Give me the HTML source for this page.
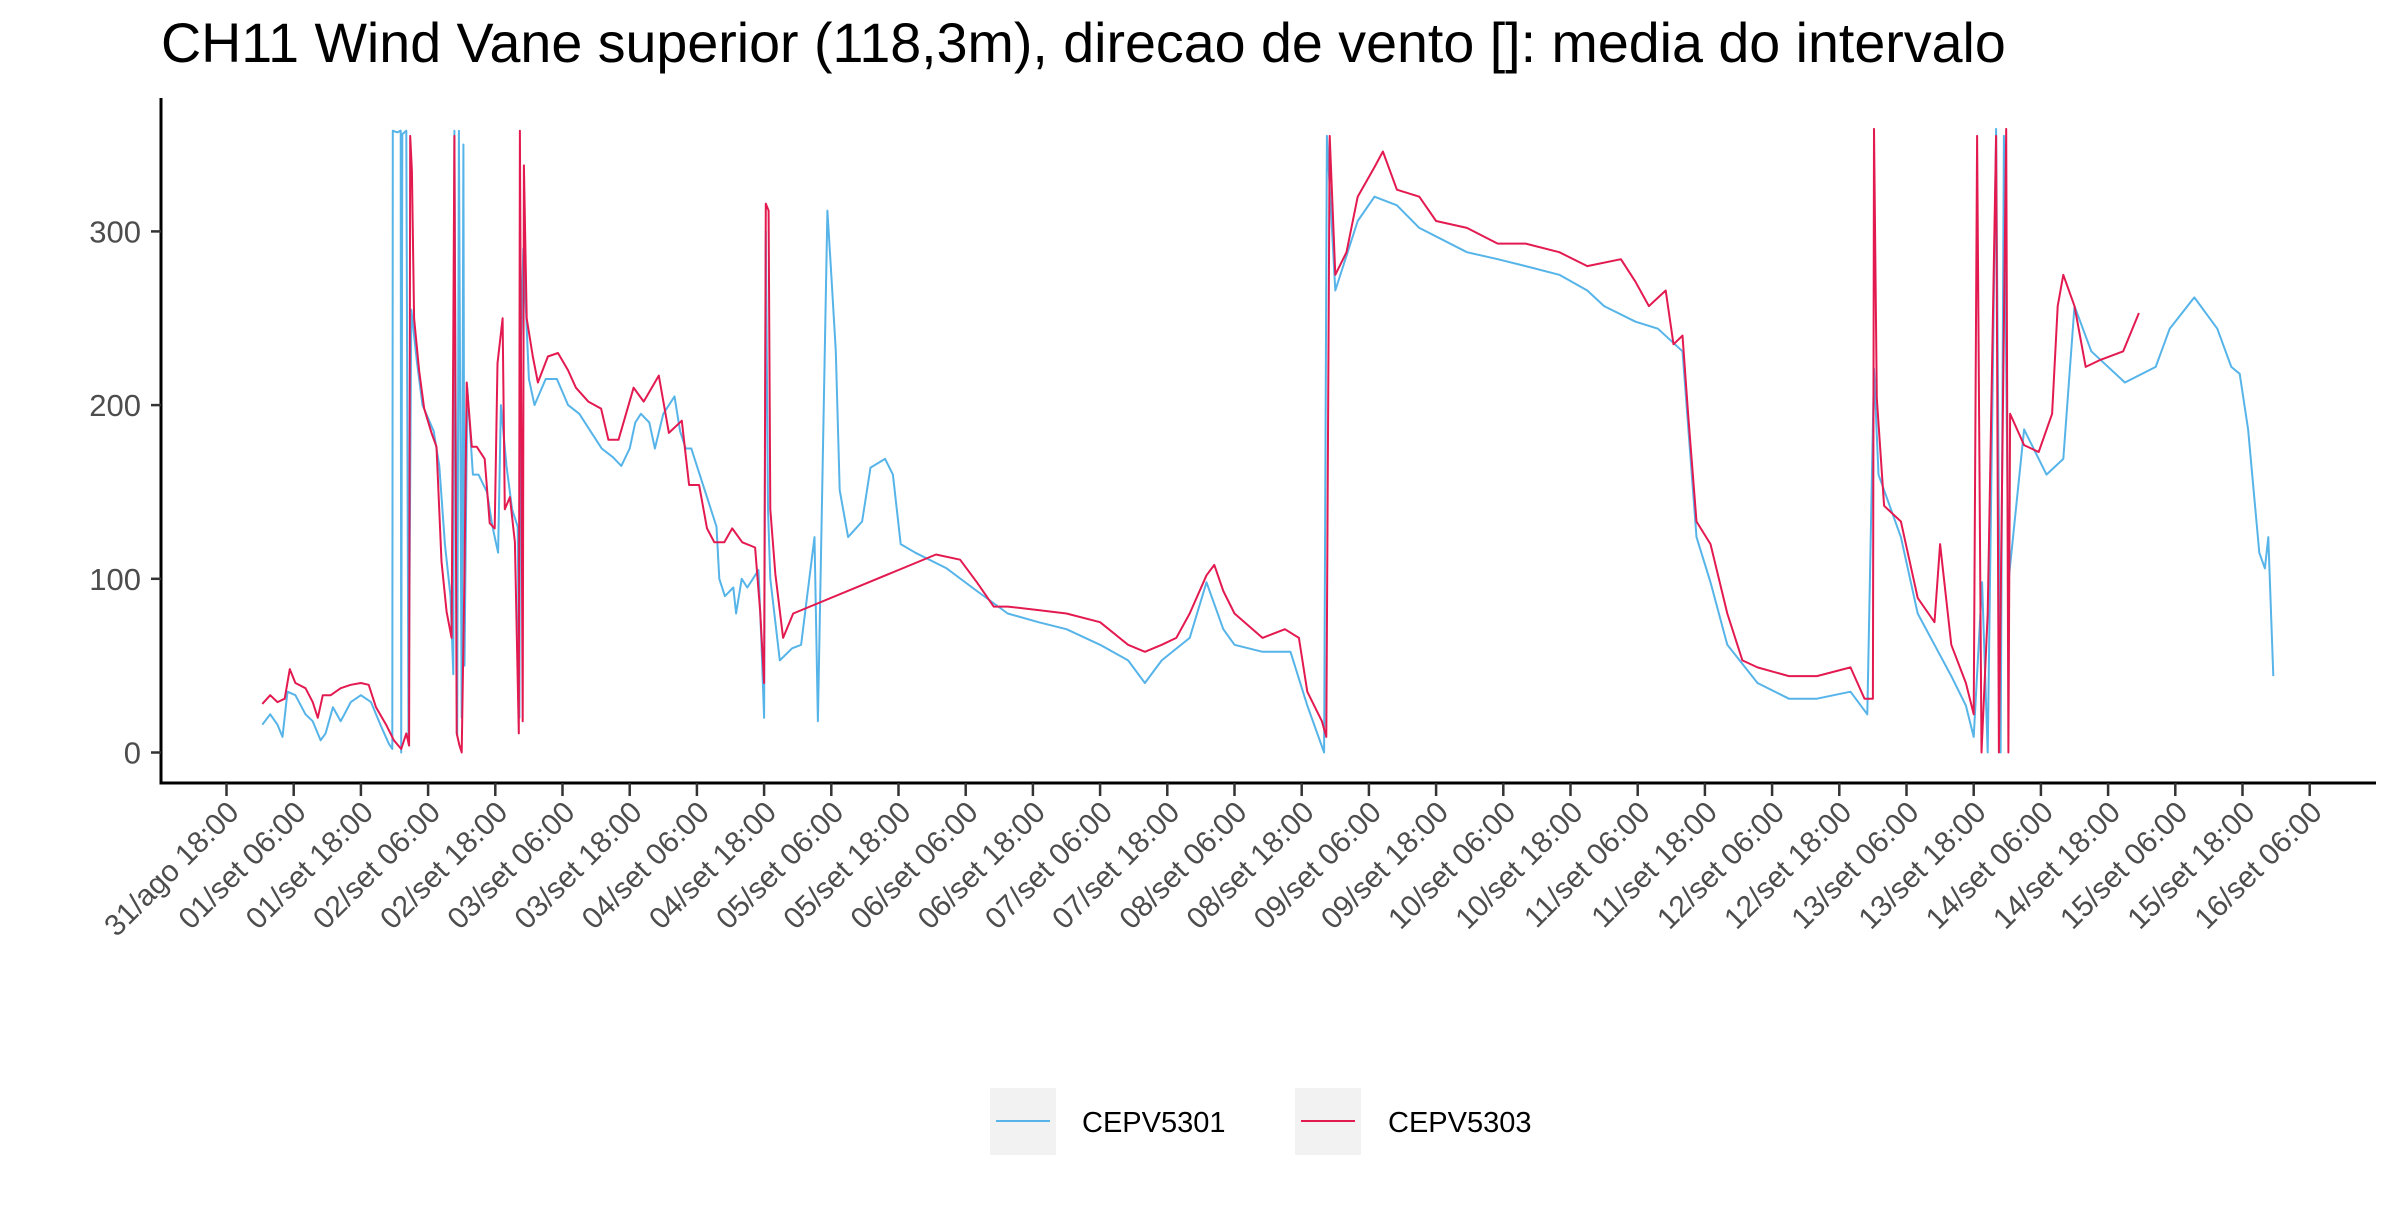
<!DOCTYPE html>
<html><head><meta charset="utf-8"><style>
body{margin:0;background:#fff}
svg text{font-family:"Liberation Sans",Arial,sans-serif}
</style></head><body>
<svg id="chart" width="2400" height="1200" viewBox="0 0 2400 1200" xmlns="http://www.w3.org/2000/svg">
<rect width="2400" height="1200" fill="#fff"/>
<text x="161" y="62" font-size="55.6" fill="#000">CH11 Wind Vane superior (118,3m), direcao de vento []: media do intervalo</text>
<g id="plot"></g>
<g id="axes"></g>
<g>
<rect x="990" y="1088" width="66" height="67" fill="#f2f2f2"/>
<line x1="996" y1="1121" x2="1050" y2="1121" stroke="#56B4E9" stroke-width="2"/>
<text x="1082" y="1132" font-size="29" fill="#000">CEPV5301</text>
<rect x="1295" y="1088" width="66" height="67" fill="#f2f2f2"/>
<line x1="1301" y1="1121" x2="1355" y2="1121" stroke="#E31A50" stroke-width="2"/>
<text x="1388" y="1132" font-size="29" fill="#000">CEPV5303</text>
</g>
</svg>
<script>
// x in hours since 31/ago 18:00
const tickLabels = ["31/ago 18:00","01/set 06:00","01/set 18:00","02/set 06:00","02/set 18:00","03/set 06:00","03/set 18:00","04/set 06:00","04/set 18:00","05/set 06:00","05/set 18:00","06/set 06:00","06/set 18:00","07/set 06:00","07/set 18:00","08/set 06:00","08/set 18:00","09/set 06:00","09/set 18:00","10/set 06:00","10/set 18:00","11/set 06:00","11/set 18:00","12/set 06:00","12/set 18:00","13/set 06:00","13/set 18:00","14/set 06:00","14/set 18:00","15/set 06:00","15/set 18:00","16/set 06:00"];
const yTicks = [0,100,200,300];
const redHours = [6.4,7.8,9.1,10.4,11.3,12.3,14.1,15.4,16.3,17.2,18.6,20.4,22.2,24,25.4,26.7,28.5,29.9,31.2,32.1,32.6,32.8,33.1,33.5,34.4,35.3,36.6,37.5,38.4,39.3,40.2,40.7,41.1,41.6,42.0,42.5,42.9,43.8,44.7,46.1,47,47.9,48.4,49.3,49.7,50.6,51.5,52.2,52.4,52.9,53.1,53.6,54.7,55.6,57.4,59.2,61,62.4,64.6,66.9,68.2,70,72.7,74.5,77.2,79,81.3,82.6,84.4,85.8,87.1,88.9,90.3,92.1,94.4,95.3,96,96.3,96.8,97.1,98,99.4,101.2,126.7,131,134,137,139.5,145,150,156,161,164,167,169.6,172,175,176.4,178,180,185,189,191.5,193,195.6,196.4,197,198,200,202,205,206.5,209,213,216,221.5,227,232,238,243,249,251.6,254,257,258.4,260,261,262.5,265,268,270.7,273.4,279,284,290,292.5,294,294.2,294.7,296,299,302,305,306,308,310.6,312,312.6,313.4,314.5,316,316.5,317.8,318.2,318.5,321,323.6,326,327,328,330,332,334.6,338.7,341.5];
const redValues = [28,33,29,31,48,40,37,29,20,33,33,37,39,40,39,26,16,7,2,11,4,355,335,250,220,198,184,176,110,81,66,355,11,4,0,103,213,176,176,169,132,129,224,250,140,147,121,11,358,18,338,250,228,213,228,230,220,210,202,198,180,180,210,202,217,184,191,154,154,129,121,121,129,121,118,81,40,316,312,140,103,66,80,114,111,98,84,84,82,80,75,62,58,62,66,80,102,108,93,80,66,71,66,35,18,9,355,275,288,320,337,346,324,320,306,302,293,293,288,280,284,271,257,266,235,240,195,133,120,80,53,49,44,44,49,31,31,359,204,142,133,89,75,120,62,40,22,355,0,80,355,0,359,0,195,177,173,195,257,275,257,222,226,231,253];
const blueHours = [6.4,7.8,9.1,10,10.9,12.3,14.1,15.4,16.8,17.7,19,20.4,22.2,24,25.8,27.6,29,29.6,29.7,30.5,31.1,31.2,31.4,32.1,32.5,33,34,35,37,38,39,40,40.5,40.7,41.2,41.5,42,42.3,42.5,43,44,45,46.5,47.5,48.5,49,50,51,52,52.3,52.5,53,54,55,57,59,61,63,65,67,69,70.5,72,73,74,75.5,76.5,78,80,81,82,83,84,86,87.5,88,89,90.5,91,92,93,94,95,95.5,96,96.3,96.7,97.1,98.8,101,102.6,105,105.6,107.3,108,108.8,109.5,111,113.5,115,117.6,119,120.4,123,128.6,134,139.5,145,150,156,161,164,167,172,175,178,180,185,190,193,196,196.5,198,202,205,209,213,221.5,227,232,238,243,246,251.6,255.6,260,262.5,265,268,273.4,279,284,290,293,294.2,295,299,302,305,308,310.6,312,313.5,314.5,316,316.8,317.4,318.2,321,325,328,330,333,339,344.5,347,351.4,355.5,358,359.5,361,363,364,364.6,365.5];
const blueValues = [16,22,16,9,35,33,22,18,7,11,26,18,29,33,29,15,5,2,358,357,358,0,356,358,5,255,225,200,185,165,120,90,45,358,10,358,20,350,50,210,160,160,150,130,115,200,165,140,130,20,225,290,215,200,215,215,200,195,185,175,170,165,175,190,195,190,175,195,205,185,175,175,165,145,130,100,90,95,80,100,95,100,105,65,20,300,140,100,53,60,62,124,18,312,275,231,151,124,133,164,169,160,120,115,106,93,80,75,71,62,53,40,53,66,98,71,62,58,58,27,0,355,266,306,320,315,302,288,284,280,275,266,257,248,244,231,124,98,62,40,31,31,35,22,221,160,124,80,62,44,27,9,98,0,359,0,355,98,186,160,169,257,231,213,222,244,262,244,222,218,186,115,106,124,44,22];

const X0 = 226.5, XS = 5.6, Y0 = 752.5, YS = 1.737;
const xScale = h => X0 + h * XS;
const yScale = v => Y0 - v * YS;
const NS = "http://www.w3.org/2000/svg";
const plot = document.getElementById('plot');
const axes = document.getElementById('axes');

function drawLine(hours, vals, color, name) {
  const p = document.createElementNS(NS, 'path');
  
  
  p.setAttribute('d', hours.map((h, i) => (i ? 'L' : 'M') + xScale(h).toFixed(1) + ' ' + yScale(vals[i]).toFixed(1)).join(' '));
  p.setAttribute('fill', 'none');
  p.setAttribute('stroke', color);
  p.setAttribute('stroke-width', '2');
  p.setAttribute('stroke-linejoin', 'round');
  plot.appendChild(p);
}
drawLine(blueHours, blueValues, '#56B4E9', 'series-cepv5301');
drawLine(redHours, redValues, '#E31A50', 'series-cepv5303');

const ya = document.createElementNS(NS, 'line');


ya.setAttribute('x1', 161); ya.setAttribute('x2', 161); ya.setAttribute('y1', 98); ya.setAttribute('y2', 784.5);
ya.setAttribute('stroke', '#000'); ya.setAttribute('stroke-width', '3');
axes.appendChild(ya);
const xa = document.createElementNS(NS, 'line');


xa.setAttribute('x1', 159.5); xa.setAttribute('x2', 2376); xa.setAttribute('y1', 783); xa.setAttribute('y2', 783);
xa.setAttribute('stroke', '#000'); xa.setAttribute('stroke-width', '3');
axes.appendChild(xa);

yTicks.forEach(v => {
  const t = document.createElementNS(NS, 'line');
  
  
  t.setAttribute('x1', 151); t.setAttribute('x2', 161);
  t.setAttribute('y1', yScale(v)); t.setAttribute('y2', yScale(v));
  t.setAttribute('stroke', '#333'); t.setAttribute('stroke-width', '2.5');
  axes.appendChild(t);
  const l = document.createElementNS(NS, 'text');
  
  
  l.setAttribute('x', 141); l.setAttribute('y', yScale(v) + 11);
  l.setAttribute('text-anchor', 'end'); l.setAttribute('font-size', '31'); l.setAttribute('fill', '#4d4d4d');
  l.textContent = v;
  axes.appendChild(l);
});

tickLabels.forEach((s, i) => {
  const x = xScale(i * 12);
  const t = document.createElementNS(NS, 'line');
  
  
  t.setAttribute('x1', x); t.setAttribute('x2', x); t.setAttribute('y1', 783); t.setAttribute('y2', 796);
  t.setAttribute('stroke', '#333'); t.setAttribute('stroke-width', '2.5');
  axes.appendChild(t);
  const l = document.createElementNS(NS, 'text');
  
  
  l.setAttribute('transform', `translate(${x + 14},${814}) rotate(-45)`);
  l.setAttribute('text-anchor', 'end'); l.setAttribute('font-size', '30'); l.setAttribute('fill', '#4d4d4d');
  l.textContent = s;
  axes.appendChild(l);
});
</script>
</body></html>
